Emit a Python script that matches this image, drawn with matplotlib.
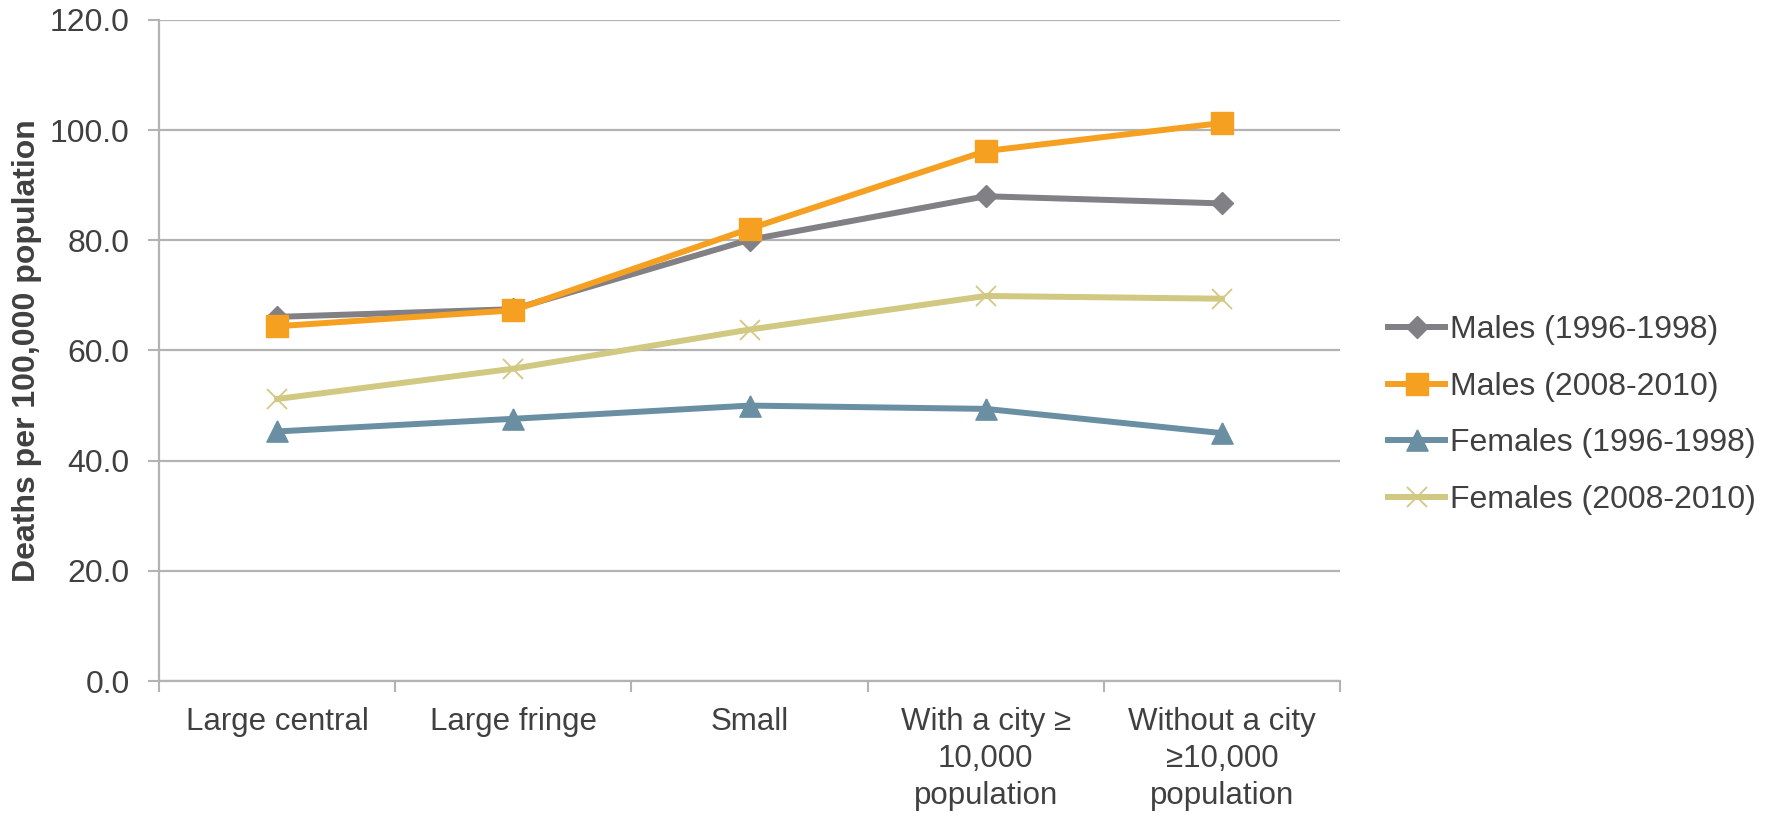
import matplotlib
matplotlib.use("Agg")
import matplotlib.pyplot as plt
from matplotlib.ticker import FixedLocator, NullFormatter

plt.rcParams['font.family'] = ['Liberation Sans', 'DejaVu Sans']

# 各类地区的死亡率（每10万人）
categories = ['Large central', 'Large fringe', 'Small',
              'With a city \u2265\n10,000\npopulation',
              'Without a city\n\u226510,000\npopulation']
males_1996 = [66.1, 67.5, 80.1, 88.0, 86.7]
males_2008 = [64.4, 67.3, 82.1, 96.2, 101.3]
females_1996 = [45.3, 47.6, 50.0, 49.4, 45.0]
females_2008 = [51.2, 56.7, 63.8, 69.9, 69.4]
series_labels = ['Males (1996-1998)', 'Males (2008-2010)',
                 'Females (1996-1998)', 'Females (2008-2010)']
y_ticks = [0, 20, 40, 60, 80, 100, 120]

text_color = '#404040'
grid_color = '#B3B3B3'

# 三角形标记按外框居中
triangle = [(0, 1), (-1, -1), (1, -1), (0, 1)]

fig = plt.figure(figsize=(17.69, 8.15), dpi=100)
ax = fig.add_axes([0.0899, 0.1644, 0.6676, 0.8111])

x = list(range(len(categories)))
lw = 4.3
ax.plot(x, males_1996, color='#808085', lw=lw, marker='D', ms=11,
        label=series_labels[0], zorder=3)
ax.plot(x, males_2008, color='#F5A021', lw=lw, marker='s', ms=15.4,
        label=series_labels[1], zorder=4)
ax.plot(x, females_1996, color='#6A8FA3', lw=lw, marker=triangle, ms=15.3,
        label=series_labels[2], zorder=3)
ax.plot(x, females_2008, color='#D1C882', lw=lw, marker='x', ms=15,
        mew=1.3, label=series_labels[3], zorder=3)

ax.set_xlim(-0.5, len(categories) - 0.5)
ax.set_ylim(0, 120)
ax.set_yticks(y_ticks)
ax.set_yticklabels([f'{v:.1f}' for v in y_ticks])

# x 轴：标签居中，刻度线落在类别之间
ax.set_xticks(x)
ax.set_xticklabels(categories, fontsize=22.5, color=text_color,
                   linespacing=1.3, va='top')
ax.xaxis.set_minor_locator(FixedLocator([i - 0.5 for i in range(len(categories) + 1)]))
ax.xaxis.set_minor_formatter(NullFormatter())
ax.tick_params(axis='x', which='major', length=0, pad=19)
ax.tick_params(axis='x', which='minor', length=8, width=1.5, color=grid_color)
ax.tick_params(axis='y', length=8, width=1.5, color=grid_color, pad=13,
               labelsize=23, labelcolor=text_color)

ax.grid(axis='y', color=grid_color, lw=1.6)
ax.set_axisbelow(True)
for side in ['top', 'right']:
    ax.spines[side].set_visible(False)
for side in ['left', 'bottom']:
    ax.spines[side].set_color(grid_color)
    ax.spines[side].set_linewidth(1.6)

ax.set_ylabel('Deaths per 100,000 population', fontsize=23, fontweight='bold',
              color=text_color)
ax.yaxis.set_label_coords(-0.099, 0.5)

fig.legend(loc='center left', bbox_to_anchor=(0.7846, 0.4905), frameon=False,
           fontsize=23, labelcolor=text_color, numpoints=1, handlelength=1.8,
           handletextpad=0.15, labelspacing=0.83, borderpad=0, borderaxespad=0)

fig.savefig('out.png', dpi=100)
